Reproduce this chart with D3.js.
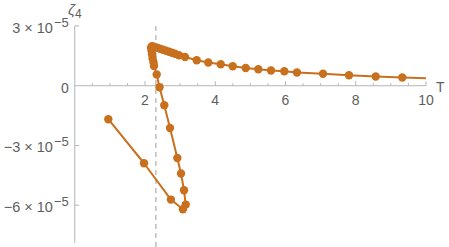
<!DOCTYPE html>
<html>
<head>
<meta charset="utf-8">
<script src="https://cdn.jsdelivr.net/npm/d3@7"></script>
<style>
body{margin:0;background:#fff;}
text{font-family:"Liberation Sans",Arial,sans-serif;fill:#5e5e5e;}
</style>
</head>
<body>
<div id="chart"></div>
<script>
var W=449,H=247;
var lineColor="#c8701e";
var axisColor="#b5b5b5";

// T values of the curve, in path order
var tVals=[0.955,1.972,2.737,3.079,3.159,3.111,3.025,2.920,2.712,2.549,2.413,2.333,2.256,
	2.242,2.214,2.199,2.185,2.171,2.199,2.256,2.342,2.427,2.513,2.598,2.683,2.769,2.854,2.968,
	3.139,3.472,3.802,4.155,4.497,4.867,5.226,5.587,5.966,6.327,7.068,7.808,8.568,9.325,10.15];
// zeta4 values, in units of 1e-5
var zVals=[-1.683,-3.894,-5.719,-6.206,-5.970,-5.251,-4.412,-3.628,-2.121,-0.980,-0.075,0.568,0.995,
	1.181,1.382,1.583,1.759,1.910,1.985,1.960,1.910,1.859,1.809,1.759,1.709,1.658,1.608,1.533,
	1.447,1.281,1.166,1.080,0.980,0.894,0.829,0.764,0.729,0.663,0.603,0.528,0.462,0.412,0.37];
var xMajor=[2,4,6,8,10];
var xMinor=[0.5,1,1.5,2.5,3,3.5,4.5,5,5.5,6.5,7,7.5,8.5,9,9.5];
var yTicks=[3,-3,-6];
var yTickText=["3 × 10","−3 × 10","−6 × 10"];
var tCrit=2.31;

var x=d3.scaleLinear().domain([0,10]).range([74.75,426]);
var y=d3.scaleLinear().domain([-7.9,3]).range([243,26]);

var svg=d3.select("#chart").append("svg")
	.attr("width",W).attr("height",H);

svg.append("defs").append("clipPath").attr("id","plotClip")
	.append("rect")
	.attr("x",x(0)).attr("y",0)
	.attr("width",x(10)-x(0)).attr("height",H);

// dashed line at the critical temperature
svg.append("line")
	.attr("x1",x(tCrit)).attr("x2",x(tCrit))
	.attr("y1",y(3)).attr("y2",H)
	.attr("stroke","#bdbdbd")
	.attr("stroke-width",1.5)
	.attr("stroke-dasharray","5,4");

// axes
svg.append("line")
	.attr("x1",x(0)).attr("x2",x(10))
	.attr("y1",y(0)).attr("y2",y(0))
	.attr("stroke",axisColor);
svg.append("line")
	.attr("x1",x(0)).attr("x2",x(0))
	.attr("y1",y(3)).attr("y2",y(-7.9))
	.attr("stroke",axisColor);

svg.selectAll(".xmaj").data(xMajor).enter().append("line")
	.attr("x1",function(d){return x(d);}).attr("x2",function(d){return x(d);})
	.attr("y1",y(0)).attr("y2",y(0)-4.5)
	.attr("stroke",axisColor);
svg.selectAll(".xmin").data(xMinor).enter().append("line")
	.attr("x1",function(d){return x(d);}).attr("x2",function(d){return x(d);})
	.attr("y1",y(0)).attr("y2",y(0)-2.5)
	.attr("stroke",axisColor);
svg.selectAll(".xlab").data(xMajor).enter().append("text")
	.attr("x",function(d){return x(d);})
	.attr("y",y(0)+19.5)
	.attr("text-anchor","middle")
	.attr("font-size",14)
	.text(function(d){return d;});

svg.selectAll(".ytick").data(yTicks).enter().append("line")
	.attr("x1",x(0)).attr("x2",x(0)+4.5)
	.attr("y1",function(d){return y(d);}).attr("y2",function(d){return y(d);})
	.attr("stroke",axisColor);

var ylab=svg.selectAll(".ylab").data(yTicks).enter().append("text")
	.attr("x",x(0)-6)
	.attr("y",function(d){return y(d)+7;})
	.attr("text-anchor","end")
	.attr("font-size",14.5);
ylab.append("tspan").text(function(d,i){return yTickText[i];});
ylab.append("tspan").attr("dx",1).attr("dy",-6).attr("font-size",13).text("−5");

svg.append("text")
	.attr("x",x(0)-6).attr("y",y(0)+7)
	.attr("text-anchor","end")
	.attr("font-size",14)
	.text("0");

// axis labels
var zl=svg.append("text").attr("x",68).attr("y",15).attr("font-size",15);
zl.append("tspan").attr("font-style","italic").text("ζ");
zl.append("tspan").attr("dy",3).attr("font-size",12).text("4");
svg.append("text").attr("x",436).attr("y",y(0)+6).attr("font-size",14).text("T");

// curve
var pts=tVals.map(function(t,i){return [t,zVals[i]];});
var plot=svg.append("g").attr("clip-path","url(#plotClip)");
plot.append("path")
	.datum(pts)
	.attr("fill","none")
	.attr("stroke",lineColor)
	.attr("stroke-width",2)
	.attr("stroke-linejoin","round")
	.attr("d",d3.line().x(function(d){return x(d[0]);}).y(function(d){return y(d[1]);}));
plot.selectAll("circle").data(pts).enter().append("circle")
	.attr("cx",function(d){return x(d[0]);})
	.attr("cy",function(d){return y(d[1]);})
	.attr("r",4.2)
	.attr("fill",lineColor);
</script>
</body>
</html>
